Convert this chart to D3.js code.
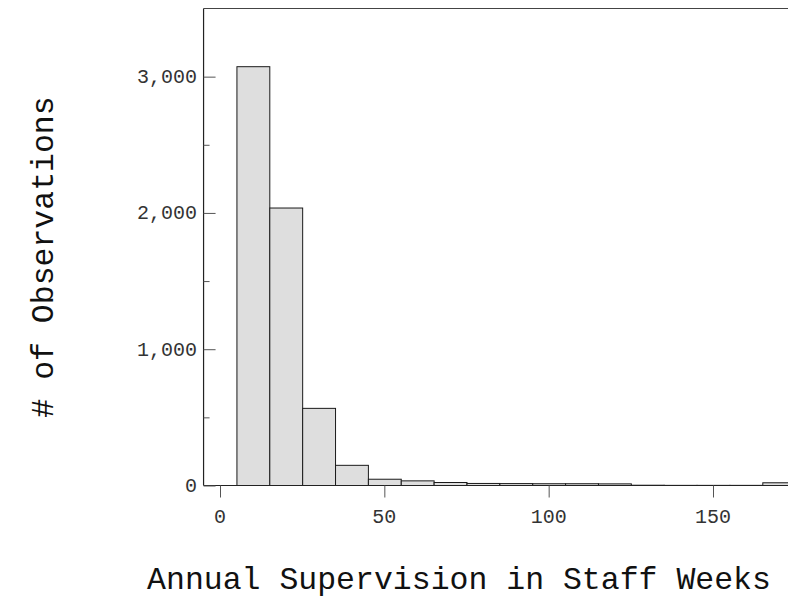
<!DOCTYPE html>
<html>
<head>
<meta charset="utf-8">
<script src="https://cdn.jsdelivr.net/npm/d3@7/dist/d3.min.js"></script>
<style>
  html, body { margin: 0; padding: 0; background: #fff; }
  svg { display: block; }
  text { font-family: "Courier New", "Liberation Mono", monospace; }
</style>
</head>
<body>
<script>
// Histogram bins (start of each bin, width 10)
const binStarts = [5, 15, 25, 35, 45, 55, 65, 75, 85, 95, 105, 115, 125, 135, 145, 155, 165];
const binCounts = [3073, 2036, 566, 148, 46, 34, 22, 15, 14, 13, 13, 12, 2, 1, 1, 1, 20];
const binWidth = 10;
const xTicks = [0, 50, 100, 150];
const yTicks = [0, 1000, 2000, 3000];
const yMinorTicks = [500, 1500, 2500];
const xTitle = "Annual Supervision in Staff Weeks";
const yTitle = "# of Observations";

const W = 788, H = 600;
const svg = d3.select("body").append("svg").attr("width", W).attr("height", H);

const x = d3.scaleLinear().domain([0, 150]).range([220, 713]);
const y = d3.scaleLinear().domain([0, 3500]).range([485.5, 8.5]);
const x0 = x(-5);

// bars
svg.append("g").selectAll("rect")
  .data(binStarts.map((s, i) => ({ s, c: binCounts[i] })))
  .join("rect")
  .attr("x", d => x(d.s) + 0.5)
  .attr("y", d => y(d.c))
  .attr("width", d => x(d.s + binWidth) - x(d.s))
  .attr("height", d => y(0) - y(d.c))
  .attr("fill", "#dedede")
  .attr("stroke", "#1a1a1a")
  .attr("stroke-width", 1);

// frame: left axis, top, bottom
svg.append("line").attr("x1", x0).attr("x2", x0).attr("y1", y(3500)).attr("y2", y(0))
  .attr("stroke", "#222").attr("stroke-width", 1.2);
svg.append("line").attr("x1", x0).attr("x2", W).attr("y1", y(3500)).attr("y2", y(3500))
  .attr("stroke", "#444").attr("stroke-width", 1.2);
svg.append("line").attr("x1", x0).attr("x2", W).attr("y1", y(0)).attr("y2", y(0))
  .attr("stroke", "#222").attr("stroke-width", 1.2);

// y axis (ticks point inward)
const yAxis = d3.axisRight(y).tickValues(yTicks).tickSize(12).tickFormat("");
const gy = svg.append("g").attr("transform", `translate(${x0},0)`).call(yAxis);
gy.select(".domain").remove();
gy.selectAll(".tick line").attr("stroke", "#555");
const yMinor = d3.axisRight(y).tickValues(yMinorTicks).tickSize(6).tickFormat("");
const gym = svg.append("g").attr("transform", `translate(${x0},0)`).call(yMinor);
gym.select(".domain").remove();
gym.selectAll(".tick line").attr("stroke", "#555");

svg.append("g").selectAll("text").data(yTicks).join("text")
  .attr("x", 197).attr("y", d => y(d) + 6.5)
  .attr("text-anchor", "end")
  .attr("font-size", 20).attr("fill", "#333")
  .text(d => d3.format(",")(d));

// x axis (ticks point down)
const xAxis = d3.axisBottom(x).tickValues(xTicks).tickSize(12).tickFormat("");
const gx = svg.append("g").attr("transform", `translate(0,${y(0)})`).call(xAxis);
gx.select(".domain").remove();
gx.selectAll(".tick line").attr("stroke", "#555");

svg.append("g").selectAll("text").data(xTicks).join("text")
  .attr("x", d => x(d)).attr("y", 523)
  .attr("text-anchor", "middle")
  .attr("font-size", 20).attr("fill", "#333")
  .text(d => d);

// titles
svg.append("text").attr("x", 459).attr("y", 589)
  .attr("text-anchor", "middle").attr("font-size", 31.5).attr("fill", "#111")
  .text(xTitle);
svg.append("text").attr("transform", "translate(53,257) rotate(-90)")
  .attr("text-anchor", "middle").attr("font-size", 31.5).attr("fill", "#111")
  .text(yTitle);
</script>
</body>
</html>
